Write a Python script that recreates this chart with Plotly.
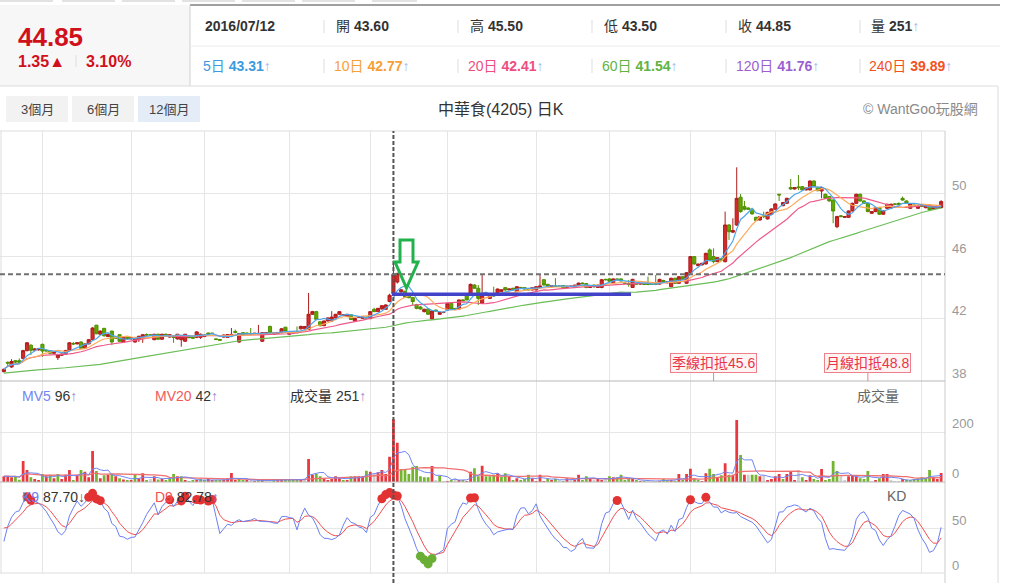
import pandas as pd
import plotly.graph_objects as go

W, H = 1010, 583
FONT = "Liberation Sans, Arial, Noto Sans CJK TC, sans-serif"

# daily candles, oldest first
opens = [
    38.60, 39.20, 38.90, 39.30, 39.30, 39.45, 39.95, 40.30, 39.98, 40.00,
    40.35, 39.98, 39.95, 39.78, 39.50, 39.65, 39.72, 39.95, 40.40, 40.38,
    40.50, 40.10, 40.38, 40.65, 41.58, 41.00, 41.38, 40.85, 41.20, 40.82,
    40.97, 40.50, 40.80, 40.70, 40.50, 40.65, 40.75, 40.98, 40.95, 40.65,
    41.00, 40.68, 41.00, 40.82, 40.85, 40.70, 40.65, 40.55, 40.82, 40.80,
    40.80, 40.80, 40.85, 41.08, 41.07, 40.70, 40.66, 40.82, 40.80, 40.92,
    41.18, 40.50, 41.10, 41.08, 41.05, 41.00, 41.00, 40.55, 41.05, 41.50,
    41.00, 41.05, 41.10, 41.45, 41.00, 41.08, 41.15, 41.35, 41.35, 41.30,
    42.28, 42.45, 41.80, 41.55, 41.85, 41.85, 42.05, 42.28, 42.20, 42.15,
    42.25, 41.85, 42.08, 42.02, 42.10, 42.00, 42.60, 42.45, 42.62, 42.60,
    43.10, 43.60, 44.35, 43.72, 43.76, 43.50, 43.35, 42.90, 42.75, 42.45,
    42.62, 41.98, 42.55, 42.28, 42.40, 42.55, 42.98, 42.65, 42.62, 43.20,
    43.52, 43.52, 44.16, 43.95, 42.98, 43.50, 43.30, 43.55, 43.63, 43.75,
    43.99, 43.85, 43.95, 43.73, 44.00, 43.99, 43.90, 43.84, 43.84, 44.00,
    44.50, 44.20, 44.05, 44.10, 44.08, 44.12, 44.00, 44.08, 44.00, 44.12,
    44.28, 44.25, 44.00, 44.15, 44.00, 44.00, 44.52, 44.55, 44.30, 44.55,
    44.55, 44.27, 44.25, 44.00, 44.27, 44.22, 44.25, 44.25, 44.20, 44.25,
    44.22, 44.45, 44.30, 44.05, 44.59, 44.27, 44.69, 44.27, 44.95, 45.98,
    45.40, 45.45, 45.51, 46.41, 45.98, 45.66, 45.85, 45.66, 48.01, 47.55,
    48.01, 49.79, 49.19, 49.10, 49.02, 48.50, 48.33, 48.60, 48.40, 48.70,
    49.02, 49.98, 49.25, 49.40, 50.41, 50.32, 50.45, 50.47, 50.26, 50.26,
    50.83, 50.43, 50.19, 49.98, 49.83, 49.61, 47.90, 48.60, 48.50, 48.50,
    48.91, 49.40, 49.98, 49.55, 49.40, 48.76, 48.87, 49.12, 48.70, 49.08,
    49.10, 49.36, 49.40, 49.72, 49.55, 49.08, 49.29, 49.08, 49.25, 49.12,
    49.29, 49.04, 49.08, 49.12,
]
highs = [
    38.80, 39.25, 39.40, 39.35, 39.45, 40.00, 40.50, 40.35, 40.10, 40.12,
    40.40, 40.02, 39.98, 39.90, 39.72, 39.76, 40.00, 40.50, 40.50, 40.50,
    40.55, 40.42, 40.70, 41.45, 41.60, 41.25, 41.40, 41.05, 41.22, 40.88,
    41.00, 40.85, 40.85, 40.82, 40.78, 40.90, 41.00, 41.05, 41.00, 41.02,
    41.03, 41.02, 41.04, 41.00, 40.88, 41.02, 40.90, 41.02, 40.86, 40.84,
    41.20, 41.05, 40.98, 41.10, 41.10, 40.72, 40.70, 40.98, 41.00, 41.40,
    41.30, 41.08, 41.14, 41.10, 41.40, 41.09, 41.60, 41.12, 41.13, 41.55,
    41.10, 41.13, 41.40, 41.48, 41.18, 41.20, 41.50, 41.55, 41.52, 43.65,
    42.50, 42.50, 41.83, 41.88, 42.08, 42.48, 42.30, 42.48, 42.28, 42.30,
    42.28, 42.05, 42.13, 42.15, 42.13, 42.48, 42.70, 42.69, 42.86, 42.92,
    43.60, 45.50, 44.95, 43.90, 43.80, 43.55, 43.40, 42.95, 42.80, 42.64,
    42.66, 42.52, 42.58, 42.43, 42.45, 43.00, 43.02, 42.70, 43.22, 43.25,
    43.55, 44.25, 44.20, 44.16, 44.85, 43.55, 43.52, 44.05, 43.93, 43.88,
    44.02, 43.93, 43.98, 44.08, 44.04, 44.02, 43.93, 44.02, 44.08, 44.80,
    44.53, 44.23, 44.15, 44.60, 44.12, 44.15, 44.11, 44.12, 44.18, 44.31,
    44.32, 44.29, 44.08, 44.20, 44.18, 44.55, 44.56, 44.58, 44.58, 44.58,
    44.58, 44.31, 44.48, 44.56, 44.31, 44.29, 44.29, 44.70, 44.24, 44.80,
    44.56, 44.49, 44.41, 44.63, 44.63, 44.72, 44.73, 44.99, 46.00, 46.02,
    45.54, 45.59, 46.23, 46.51, 46.51, 45.95, 45.89, 48.87, 48.05, 48.44,
    51.71, 50.00, 49.55, 49.14, 49.06, 48.54, 48.59, 48.87, 48.86, 49.08,
    49.40, 50.00, 49.49, 49.76, 50.96, 50.45, 51.22, 50.51, 50.42, 50.87,
    50.87, 50.47, 50.45, 50.02, 49.87, 49.65, 48.60, 48.64, 48.59, 48.95,
    49.44, 50.02, 50.02, 49.59, 49.44, 48.91, 49.16, 49.16, 48.95, 49.38,
    49.38, 49.40, 49.44, 49.83, 49.59, 49.42, 49.33, 49.26, 49.29, 49.23,
    49.33, 49.23, 49.29, 49.60,
]
lows = [
    38.55, 38.95, 38.85, 39.15, 39.15, 39.40, 39.90, 39.67, 39.90, 39.95,
    39.55, 39.88, 39.75, 39.74, 39.35, 39.60, 39.70, 39.90, 40.30, 40.35,
    40.05, 40.05, 40.35, 40.60, 41.00, 40.95, 40.85, 40.82, 40.30, 40.70,
    40.50, 40.45, 40.68, 40.66, 40.45, 40.50, 40.45, 40.90, 40.90, 40.62,
    40.65, 40.65, 40.94, 40.78, 40.45, 40.66, 40.20, 40.50, 40.76, 40.72,
    40.75, 40.70, 40.82, 40.98, 41.02, 40.62, 40.58, 40.78, 40.76, 40.85,
    41.05, 40.45, 40.92, 41.00, 41.00, 40.97, 40.95, 40.50, 41.02, 41.05,
    40.97, 41.02, 41.05, 41.15, 40.97, 41.05, 41.08, 41.30, 41.32, 41.28,
    42.25, 41.90, 41.50, 41.52, 41.82, 41.80, 42.02, 42.25, 42.17, 42.12,
    41.92, 41.82, 42.05, 41.98, 42.02, 41.97, 42.42, 42.42, 42.58, 42.57,
    43.05, 43.50, 44.25, 43.65, 43.35, 43.30, 42.88, 42.60, 42.58, 42.40,
    42.25, 41.95, 42.45, 42.25, 42.35, 42.52, 42.58, 42.58, 42.58, 43.12,
    43.18, 43.50, 43.92, 42.88, 42.95, 43.45, 43.27, 43.40, 43.60, 43.72,
    43.80, 43.82, 43.80, 43.70, 43.95, 43.87, 43.82, 43.81, 43.81, 43.97,
    44.13, 44.01, 44.02, 44.04, 44.04, 43.95, 43.97, 44.04, 43.97, 44.09,
    44.21, 43.95, 43.97, 43.98, 43.97, 43.95, 44.45, 44.36, 44.27, 44.46,
    44.38, 44.23, 44.05, 43.97, 44.18, 44.18, 44.16, 44.15, 44.16, 44.15,
    44.18, 44.36, 44.27, 44.02, 44.23, 44.23, 44.48, 44.23, 44.90, 45.47,
    45.36, 45.41, 45.47, 45.72, 45.55, 45.62, 45.72, 45.60, 47.05, 47.50,
    47.95, 48.80, 48.95, 48.98, 48.68, 48.26, 48.29, 48.45, 48.36, 48.66,
    48.98, 49.55, 49.21, 49.36, 50.28, 50.28, 50.25, 50.22, 50.22, 50.22,
    50.43, 50.17, 49.72, 49.68, 49.51, 48.12, 47.80, 48.51, 48.46, 48.46,
    48.87, 49.36, 49.51, 49.36, 48.83, 48.72, 48.83, 48.66, 48.66, 49.04,
    49.06, 49.30, 49.30, 49.57, 49.36, 49.04, 49.21, 49.04, 49.16, 49.08,
    48.93, 49.00, 49.04, 49.08,
]
closes = [
    38.75, 39.15, 39.25, 39.22, 39.20, 39.95, 40.45, 39.97, 40.05, 40.08,
    39.92, 39.93, 39.78, 39.85, 39.68, 39.72, 39.95, 40.45, 40.38, 40.45,
    40.10, 40.38, 40.65, 41.40, 41.03, 41.20, 40.90, 40.98, 40.50, 40.75,
    40.55, 40.80, 40.72, 40.78, 40.75, 40.87, 40.97, 40.95, 40.95, 41.00,
    40.68, 41.00, 40.98, 40.97, 40.80, 41.00, 40.88, 41.00, 40.78, 40.75,
    41.15, 41.00, 40.95, 41.02, 41.05, 40.67, 40.62, 40.95, 40.98, 40.99,
    41.12, 41.05, 40.95, 41.02, 41.02, 41.06, 41.05, 41.10, 41.10, 41.10,
    41.08, 41.10, 41.35, 41.20, 41.15, 41.12, 41.10, 41.50, 41.50, 42.28,
    42.45, 41.95, 41.55, 41.85, 42.05, 42.10, 42.28, 42.45, 42.25, 42.28,
    41.95, 42.02, 42.10, 42.12, 42.05, 42.45, 42.45, 42.66, 42.83, 42.88,
    43.50, 44.85, 44.90, 43.85, 43.38, 43.35, 43.10, 42.66, 42.62, 42.60,
    42.28, 42.49, 42.49, 42.40, 42.40, 42.98, 42.62, 42.62, 43.20, 43.15,
    43.20, 44.20, 43.95, 43.30, 43.52, 43.50, 43.48, 43.45, 43.90, 43.85,
    43.84, 43.90, 43.84, 44.05, 43.98, 43.90, 43.85, 43.99, 44.05, 44.10,
    44.16, 44.08, 44.12, 44.08, 44.08, 43.98, 44.08, 44.08, 44.15, 44.28,
    44.25, 44.00, 44.05, 44.05, 44.15, 44.50, 44.50, 44.40, 44.55, 44.50,
    44.42, 44.27, 44.20, 44.52, 44.22, 44.25, 44.20, 44.20, 44.20, 44.20,
    44.52, 44.40, 44.37, 44.59, 44.27, 44.69, 44.52, 44.95, 45.98, 45.51,
    45.50, 45.55, 46.19, 45.76, 45.66, 45.91, 45.76, 48.01, 47.58, 47.65,
    49.72, 48.87, 49.02, 49.02, 48.72, 48.30, 48.55, 48.55, 48.82, 49.04,
    49.36, 49.94, 49.45, 49.72, 50.32, 50.41, 50.41, 50.26, 50.38, 50.83,
    50.47, 50.21, 50.41, 49.72, 49.55, 48.91, 48.55, 48.55, 48.55, 48.91,
    49.40, 49.98, 49.55, 49.40, 48.87, 48.87, 49.12, 48.70, 48.91, 49.34,
    49.34, 49.34, 49.34, 49.61, 49.40, 49.38, 49.25, 49.22, 49.20, 49.19,
    48.97, 49.19, 49.25, 49.51,
]
volumes = [
    23, 25, 19, 23, 9, 84, 48, 19, 12, 8,
    32, 23, 29, 15, 32, 12, 29, 48, 8, 29,
    48, 41, 19, 124, 44, 15, 27, 29, 32, 23,
    15, 10, 8, 8, 29, 15, 35, 8, 12, 23,
    10, 12, 8, 15, 32, 23, 23, 8, 4, 6,
    8, 12, 8, 12, 6, 8, 5, 10, 15, 36,
    8, 15, 6, 5, 6, 4, 6, 8, 6, 8,
    5, 12, 8, 12, 6, 5, 10, 12, 15, 92,
    29, 32, 23, 12, 8, 12, 23, 15, 8, 8,
    23, 23, 23, 23, 45, 41, 32, 39, 48, 32,
    101, 251, 157, 52, 52, 32, 61, 64, 23, 19,
    19, 64, 8, 25, 4, 4, 8, 15, 8, 8,
    4, 41, 55, 23, 65, 23, 23, 29, 35, 20,
    35, 23, 5, 15, 8, 12, 29, 15, 4, 29,
    4, 12, 8, 12, 8, 4, 15, 15, 8, 29,
    8, 23, 15, 8, 12, 5, 15, 23, 19, 19,
    29, 5, 12, 12, 8, 4, 4, 4, 4, 4,
    4, 12, 8, 8, 4, 32, 8, 32, 53, 12,
    6, 4, 35, 53, 32, 19, 27, 75, 29, 29,
    248, 108, 29, 29, 29, 29, 23, 27, 8, 12,
    23, 32, 12, 32, 44, 8, 48, 19, 8, 27,
    12, 8, 52, 8, 12, 84, 44, 23, 8, 23,
    27, 23, 15, 12, 44, 4, 8, 15, 32, 32,
    8, 4, 4, 12, 10, 8, 12, 15, 19, 15,
    48, 19, 12, 36,
]

# the 60-day line before 60 candles exist
ma60_head_idx = [0, 8, 16, 25, 34, 42, 51]
ma60_head_val = [38.50, 38.70, 38.85, 39.07, 39.45, 39.80, 40.16]
kd_start = [35, 50]

month_ticks = [10, 33, 52, 74, 95, 115, 138, 157, 178, 200, 238]
price_ticks = [38, 42, 46, 50]
vol_ticks = [0, 200]
kd_ticks = [0, 50]

cross_idx = 101
cross_price = 44.85
support_price = 43.57
support_from, support_to = 100.6, 162.6
deduct_idx = [184, 224]
deduct_text = ["季線扣抵45.6", "月線扣抵48.8"]

header_top = [("", "2016/07/12", ""), ("開 ", "43.60", ""), ("高 ", "45.50", ""),
              ("低 ", "43.50", ""), ("收 ", "44.85", ""), ("量 ", "251", "↑")]
header_ma = [("5日 ", "43.31", "#3b9ae1"), ("10日 ", "42.77", "#f7a035"),
             ("20日 ", "42.41", "#ee4d80"), ("60日 ", "41.54", "#62b343"),
             ("120日 ", "41.76", "#9b5fd0"), ("240日 ", "39.89", "#f4511e")]
header_x = [203, 334, 468, 602, 736, 869]
buttons = ["3個月", "6個月", "12個月"]


def px(x):
    return x / W


def py(y):
    return 1 - y / H


n = len(closes)
idx = list(range(n))
cs = pd.Series(closes)
ma5 = cs.rolling(5, min_periods=1).mean()
ma10 = cs.rolling(10, min_periods=1).mean()
ma20 = cs.rolling(20, min_periods=1).mean()
ma60 = cs.rolling(60).mean()
ma60_x = ma60_head_idx + idx[59:]
ma60_y = ma60_head_val + list(ma60[59:])

vs = pd.Series(volumes)
mv5 = vs.rolling(5, min_periods=1).mean()
mv20 = vs.rolling(20, min_periods=1).mean()
vol_colors = []
for i in range(n):
    prev = closes[i - 1] if i else opens[0]
    if closes[i] > prev:
        vol_colors.append("#e8383d")
    elif closes[i] < prev:
        vol_colors.append("#74b52f")
    else:
        vol_colors.append("#cfcfcf")

hh = pd.Series(highs).rolling(9, min_periods=1).max()
ll = pd.Series(lows).rolling(9, min_periods=1).min()
rsv = ((cs - ll) / (hh - ll) * 100).tolist()
k_line, d_line = [kd_start[0]], [kd_start[1]]
for r in rsv[1:]:
    k_line.append(k_line[-1] * 2 / 3 + r / 3)
    d_line.append(d_line[-1] * 2 / 3 + k_line[-1] / 3)
hi_x = [i for i in idx if k_line[i] > 80]
lo_x = [i for i in idx if k_line[i] < 20]

fig = go.Figure()

# price pane
for ys, col in [(ma20, "#ee5a8a"), (ma10, "#ffab5c"), (ma5, "#4ea6ec")]:
    fig.add_trace(go.Scatter(x=idx, y=ys, mode="lines", line=dict(color=col, width=1.2),
                             xaxis="x", yaxis="y"))
fig.add_trace(go.Scatter(x=ma60_x, y=ma60_y, mode="lines", line=dict(color="#6cbd58", width=1.2),
                         xaxis="x", yaxis="y"))
fig.add_trace(go.Candlestick(
    x=idx, open=opens, high=highs, low=lows, close=closes,
    increasing=dict(line=dict(color="#b01c1c", width=1), fillcolor="#d42a2a"),
    decreasing=dict(line=dict(color="#4f8f00", width=1), fillcolor="#62a800"),
    whiskerwidth=0, xaxis="x", yaxis="y"))

# volume pane
fig.add_trace(go.Bar(x=idx, y=volumes, marker=dict(color=vol_colors, line=dict(width=0)),
                     width=0.72, xaxis="x2", yaxis="y2"))
fig.add_trace(go.Scatter(x=idx, y=mv20, mode="lines", line=dict(color="#f07070", width=1.3),
                         xaxis="x2", yaxis="y2"))
fig.add_trace(go.Scatter(x=idx, y=mv5, mode="lines", line=dict(color="#7286f2", width=1),
                         xaxis="x2", yaxis="y2"))

# KD pane
fig.add_trace(go.Scatter(x=idx, y=d_line, mode="lines", line=dict(color="#f05050", width=1),
                         xaxis="x3", yaxis="y3"))
fig.add_trace(go.Scatter(x=idx, y=k_line, mode="lines", line=dict(color="#6a7ff0", width=1),
                         xaxis="x3", yaxis="y3"))
fig.add_trace(go.Scatter(x=hi_x, y=[k_line[i] for i in hi_x], mode="markers", cliponaxis=False,
                         marker=dict(color="#e33232", size=9), xaxis="x3", yaxis="y3"))
fig.add_trace(go.Scatter(x=lo_x, y=[k_line[i] for i in lo_x], mode="markers", cliponaxis=False,
                         marker=dict(color="#6aae35", size=9), xaxis="x3", yaxis="y3"))

xdom = [0, px(945)]
xcommon = dict(domain=xdom, range=[-1, n], tickvals=month_ticks, showticklabels=False,
               showgrid=True, gridcolor="#e6e6e6", zeroline=False, showline=False, fixedrange=True)
ycommon = dict(showticklabels=False, showgrid=True, gridcolor="#e6e6e6", zeroline=False,
               showline=False, fixedrange=True)
fig.update_layout(
    width=W, height=H, margin=dict(l=0, r=0, t=0, b=0),
    paper_bgcolor="white", plot_bgcolor="white", showlegend=False, hovermode=False,
    font=dict(family=FONT, color="#333"), boxgap=0.15, boxgroupgap=0.05,
    xaxis=dict(xcommon, anchor="y", rangeslider=dict(visible=False)),
    xaxis2=dict(xcommon, anchor="y2"),
    xaxis3=dict(xcommon, anchor="y3"),
    yaxis=dict(ycommon, domain=[py(381), py(131)], range=[38, 54.04], tickvals=[42, 46, 50]),
    yaxis2=dict(ycommon, domain=[py(482), py(381)], range=[0, 404], tickvals=[200]),
    yaxis3=dict(ycommon, domain=[py(573), py(482)], range=[0, 101.1], tickvals=[50]),
)

shapes = []


def box(x0, y0, x1, y1, fill, line=None):
    shapes.append(dict(type="rect", xref="paper", yref="paper", x0=px(x0), x1=px(x1),
                       y0=py(y1), y1=py(y0), fillcolor=fill, layer="below",
                       line=dict(width=1 if line else 0, color=line or fill)))


def seg(x0, y0, x1, y1, color, width=1, dash=None):
    shapes.append(dict(type="line", xref="paper", yref="paper", x0=px(x0), x1=px(x1),
                       y0=py(y0), y1=py(y1), line=dict(color=color, width=width, dash=dash)))


# header frame
for a, b in [(0, 53), (62, 115), (122, 175), (182, 235), (242, 295), (302, 355), (372, 417)]:
    box(a, 0, b, 2, "#e2e2e2")
box(0, 5, 190, 86, "#f7f7f7")
seg(190, 5, 1000, 5, "#808080", 1.5)
seg(190, 5, 190, 86, "#cfcfcf")
seg(190, 46, 1000, 46, "#ececec")
seg(0, 86, 998, 86, "#dcdcdc")
seg(998, 86, 998, 583, "#dcdcdc")
for x in [324, 458, 592, 726, 860]:
    seg(x, 20, x, 33, "#dddddd")
    seg(x, 59, x, 73, "#dddddd")
seg(76, 55, 76, 67, "#dddddd")

# period buttons
for (a, b), fill in zip([(6, 68), (72, 134), (138, 200)], ["#f2f2f2", "#f2f2f2", "#e3ecf7"]):
    box(a, 96, b, 122, fill)

# chart frame
seg(0, 131, 945, 131, "#dddddd")
seg(1, 131, 1, 573, "#dddddd")
seg(945, 131, 945, 583, "#cccccc")
seg(0, 381, 945, 381, "#b8b8b8")
seg(0, 482, 945, 482, "#b8b8b8")
seg(0, 573, 945, 573, "#dddddd")

# crosshair
shapes.append(dict(type="line", xref="x", yref="paper", x0=cross_idx, x1=cross_idx,
                   y0=py(583), y1=py(131), line=dict(color="#555", width=2, dash="4px,2px")))
shapes.append(dict(type="line", xref="paper", yref="y", x0=0, x1=px(945),
                   y0=cross_price, y1=cross_price, line=dict(color="#707070", width=2, dash="5px,3px")))

# hand-drawn support line and arrow
shapes.append(dict(type="line", xref="x", yref="y", x0=support_from, x1=support_to,
                   y0=support_price, y1=support_price, line=dict(color="#4242c8", width=3.5)))
arrow = [(400, 240), (413, 240), (413, 262), (418, 262), (406.5, 288), (395, 262), (400, 262)]
path = "M " + " L ".join(f"{px(x):.5f},{py(y):.5f}" for x, y in arrow) + " Z"
shapes.append(dict(type="path", xref="paper", yref="paper", path=path,
                   line=dict(color="#22b24c", width=3), fillcolor="rgba(0,0,0,0)"))

# deduction markers
for i in deduct_idx:
    shapes.append(dict(type="line", xref="x", yref="paper", x0=i, x1=i, y0=py(373), y1=py(381),
                       line=dict(color="#ef7f8a", width=1)))

fig.update_layout(shapes=shapes)

ann = []


def label(x, y, text, size=14, color="#333", anchor="left", xref="paper", yref="paper", yshift=0):
    ann.append(dict(x=x, y=y, xref=xref, yref=yref, text=text, showarrow=False, xanchor=anchor,
                    yanchor="middle", yshift=yshift, font=dict(size=size, color=color, family=FONT)))


label(px(16), py(37), "<b>44.85</b>", size=26, color="#d0101b")
label(px(16), py(61), "<b>1.35▲</b>", size=16, color="#d0101b")
label(px(84), py(61), "<b>3.10%</b>", size=16, color="#d0101b")
for x, (pre, val, post) in zip(header_x, header_top):
    tail = f"<span style='color:#a3b5e8'>{post}</span>" if post else ""
    label(px(x), py(26), f"{pre}<b>{val}</b>{tail}", size=14, color="#333")
for x, (pre, val, col) in zip(header_x, header_ma):
    label(px(x - 2), py(66), f"{pre}<b>{val}</b><span style='color:#a3b5e8'>↑</span>",
          size=14, color=col)
for (a, b), t in zip([(6, 68), (72, 134), (138, 200)], buttons):
    label(px((a + b) / 2), py(109), t, size=13, color="#444", anchor="center")
label(0.496, py(109), "中華食(4205) 日K", size=16, color="#333", anchor="center")
label(px(980), py(109), "© WantGoo玩股網", size=14, color="#8a8a8a", anchor="right")

for v in price_ticks:
    label(px(950), v, str(v), size=13, color="#999", yref="y", yshift=8)
for v in vol_ticks:
    label(px(950), v, str(v), size=13, color="#999", yref="y2", yshift=9)
for v in kd_ticks:
    label(px(950), v, str(v), size=13, color="#999", yref="y3", yshift=8)

label(px(20), py(396), "<span style='color:#7286f2'>MV5</span> 96<span style='color:#a080c8'>↑</span>")
label(px(153), py(396), "<span style='color:#f05a5a'>MV20</span> 42<span style='color:#a080c8'>↑</span>")
label(px(288), py(396), "成交量 251<span style='color:#a080c8'>↑</span>")
label(px(855), py(396), "成交量", color="#666")
label(px(20), py(497), "<span style='color:#6a7ff0'>K9</span> 87.70<span style='color:#555'>↓</span>")
label(px(153), py(497), "<span style='color:#f05050'>D9</span> 82.78<span style='color:#a080c8'>↑</span>")
label(px(885), py(496), "KD", color="#666")

for i, t in zip(deduct_idx, deduct_text):
    ann.append(dict(x=i, y=py(362.5), xref="x", yref="paper", text=t, showarrow=False,
                    xanchor="center", yanchor="middle", bgcolor="#fff4f4", bordercolor="#ef7f8a",
                    borderwidth=1, borderpad=1, font=dict(size=14, color="#e8334a", family=FONT)))

fig.update_layout(annotations=ann)
fig.write_html("out.html", config={"displayModeBar": False},
               post_script="document.body.style.margin='0';")
